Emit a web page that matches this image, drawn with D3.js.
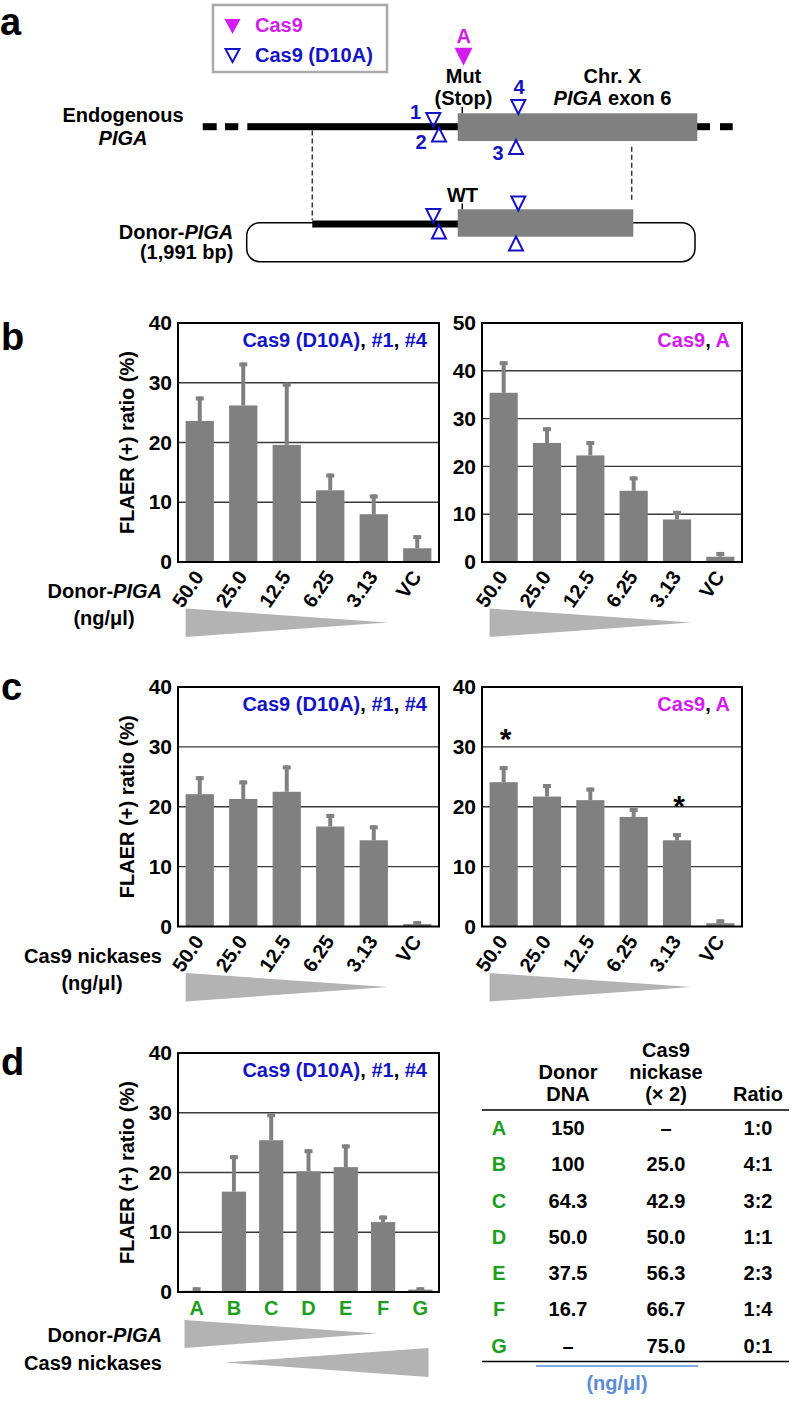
<!DOCTYPE html>
<html><head><meta charset="utf-8">
<script src="https://cdn.jsdelivr.net/npm/d3@7"></script>
<style>body{margin:0;background:#fff}svg{display:block}text{font-family:"Liberation Sans",Arial,sans-serif;font-weight:bold}</style>
</head><body><svg id="fig" width="796" height="1405"></svg>
<script>
// ---------- DATA ----------
const doseCats = ["50.0","25.0","12.5","6.25","3.13","VC"];
const bLeftValues  = [23.6, 26.2, 19.6, 12.0, 8.0, 2.3];
const bLeftErrors  = [4.1, 7.2, 10.4, 2.8, 3.3, 2.2];
const bRightValues = [35.4, 24.9, 22.3, 14.9, 8.9, 1.1];
const bRightErrors = [6.6, 3.3, 3.0, 3.0, 1.8, 1.0];
const cLeftValues  = [22.1, 21.3, 22.5, 16.7, 14.4, 0.4];
const cLeftErrors  = [3.0, 3.1, 4.4, 2.1, 2.5, 0.5];
const cRightValues = [24.1, 21.7, 21.1, 18.3, 14.4, 0.55];
const cRightErrors = [2.7, 2.1, 2.1, 1.5, 1.2, 0.65];
const cRightStars  = [true, false, false, false, true, false];
const ratioCats    = ["A","B","C","D","E","F","G"];
const dValues      = [0.2, 16.8, 25.4, 20.2, 20.9, 11.7, 0.4];
const dErrors      = [0.6, 6.1, 4.5, 3.7, 3.8, 1.1, 0.4];
const ticks40 = [0,10,20,30,40];
const ticks50 = [0,10,20,30,40,50];
const tableDonor = ["150","100","64.3","50.0","37.5","16.7","–"];
const tableCas9  = ["–","25.0","42.9","50.0","56.3","66.7","75.0"];
const tableRatio = ["1:0","4:1","3:2","1:1","2:3","1:4","0:1"];

// ---------- STYLE ----------
const BLUE="#1414c4", MAG="#d21cf0", GREEN="#1e9e1e", BAR="#808080", TRI="#b3b3b3";
const svg = d3.select("#fig");

function txt(g, x, y, s, opt={}) {
  const t = g.append("text").attr("x",x).attr("y",y).text(s)
    .attr("font-size", opt.size||20).attr("fill", opt.fill||"#000")
    .attr("text-anchor", opt.anchor||"start");
  if (opt.italic) t.attr("font-style","italic");
  if (opt.weight) t.attr("font-weight",opt.weight);
  return t;
}
function richText(g, x, y, parts, anchor, size) {
  const t = g.append("text").attr("x",x).attr("y",y).attr("text-anchor",anchor||"start").attr("font-size",size||20);
  parts.forEach(p => { const s=t.append("tspan").text(p.t).attr("fill",p.c||"#000"); if(p.i) s.attr("font-style","italic"); });
  return t;
}

// ---------- BAR CHART ----------
function barChart(o) {
  const g = svg.append("g");
  const x = d3.scaleBand().domain(o.cats).range([o.x0,o.x1]).paddingInner(0.35).paddingOuter(0.175);
  const y = d3.scaleLinear().domain([0,o.ymax]).range([o.y1,o.y0]);
  g.selectAll(".grid").data(o.ticks.filter(t=>t>0 && t<o.ymax)).join("line")
    .attr("x1",o.x0).attr("x2",o.x1).attr("y1",d=>y(d)).attr("y2",d=>y(d))
    .attr("stroke","#3a3a3a").attr("stroke-width",1.4);
  g.selectAll(".bar").data(o.values).join("rect")
    .attr("x",(d,i)=>x(o.cats[i])).attr("width",x.bandwidth())
    .attr("y",d=>y(d)).attr("height",d=>o.y1-y(d)).attr("fill",BAR);
  g.selectAll(".err").data(o.values).join("line")
    .attr("x1",(d,i)=>x(o.cats[i])+x.bandwidth()/2).attr("x2",(d,i)=>x(o.cats[i])+x.bandwidth()/2)
    .attr("y1",d=>y(d)).attr("y2",(d,i)=>y(d+o.errors[i])).attr("stroke",BAR).attr("stroke-width",4);
  g.selectAll(".cap").data(o.values).join("rect")
    .attr("x",(d,i)=>x(o.cats[i])+x.bandwidth()/2-4).attr("width",8)
    .attr("y",(d,i)=>y(d+o.errors[i])).attr("height",4).attr("fill",BAR);
  g.append("rect").attr("x",o.x0).attr("y",o.y0).attr("width",o.x1-o.x0).attr("height",o.y1-o.y0)
    .attr("fill","none").attr("stroke","#000").attr("stroke-width",2);
  const ya = d3.axisLeft(y).tickValues(o.ticks).tickSize(0).tickPadding(6);
  const yg = g.append("g").attr("transform",`translate(${o.x0},0)`).call(ya);
  yg.select(".domain").remove();
  yg.selectAll("text").attr("font-size",21).attr("fill","#000").attr("font-family",'"Liberation Sans",Arial,sans-serif').attr("font-weight","bold");
  if (o.rotate) {
    o.cats.forEach(c => {
      const cx = x(c)+x.bandwidth()/2;
      const t = txt(g, 0, 0, c, {anchor:"end"});
      t.attr("transform",`translate(${cx+5},${o.y1+15}) rotate(-55)`);
    });
  } else {
    o.cats.forEach(c => txt(g, x(c)+x.bandwidth()/2, o.y1+23, c, {anchor:"middle", fill:GREEN}));
  }
  richText(g, o.x1-12, o.y0+24, o.title, "end", 20);
  if (o.ylabel) {
    txt(g, 0, 0, "FLAER (+) ratio (%)", {anchor:"middle"})
      .attr("transform",`translate(${o.x0-44},${(o.y0+o.y1)/2}) rotate(-90)`);
  }
  if (o.stars) {
    o.stars.forEach((s,i)=>{ if(s){ const c=o.cats[i];
      txt(g, x(c)+x.bandwidth()/2+2, y(o.values[i]+o.errors[i])-17, "*", {anchor:"middle", size:30}); }});
  }
  if (o.rotate) {
    const l = x(o.cats[0]), r = x(o.cats[4])+x.bandwidth();
    const ty = o.y1+46.5;
    g.append("path").attr("d",`M${l},${ty} L${r},${ty+14} L${l},${ty+28.5} Z`).attr("fill",TRI);
  }
  return {g,x,y};
}

const titleD10A = [{t:"Cas9 (D10A)",c:BLUE},{t:", "},{t:"#1",c:BLUE},{t:", "},{t:"#4",c:BLUE}];
const titleCas9 = [{t:"Cas9",c:MAG},{t:", "},{t:"A",c:MAG}];

barChart({x0:178,x1:439,y0:323,y1:562,ymax:40,ticks:ticks40,cats:doseCats,values:bLeftValues,errors:bLeftErrors,rotate:true,title:titleD10A,ylabel:true});
barChart({x0:482,x1:742,y0:323,y1:562,ymax:50,ticks:ticks50,cats:doseCats,values:bRightValues,errors:bRightErrors,rotate:true,title:titleCas9});
barChart({x0:178,x1:439,y0:687,y1:926.5,ymax:40,ticks:ticks40,cats:doseCats,values:cLeftValues,errors:cLeftErrors,rotate:true,title:titleD10A,ylabel:true});
barChart({x0:482,x1:742,y0:687,y1:926.5,ymax:40,ticks:ticks40,cats:doseCats,values:cRightValues,errors:cRightErrors,rotate:true,title:titleCas9,stars:cRightStars});
const dch = barChart({x0:178,x1:439,y0:1053,y1:1292,ymax:40,ticks:ticks40,cats:ratioCats,values:dValues,errors:dErrors,rotate:false,title:titleD10A,ylabel:true});
{
  const x=dch.x, bw=x.bandwidth();
  const l1=x("A"), r1=x("F")+bw*0.25;
  dch.g.append("path").attr("d",`M${l1},1320 L${r1},1333.5 L${l1},1348 Z`).attr("fill",TRI);
  const l2=x("B")+3, r2=x("G")+bw-4;
  dch.g.append("path").attr("d",`M${l2},1362.5 L${r2},1348 L${r2},1377 Z`).attr("fill",TRI);
}

// side labels
richText(svg, 162, 598, [{t:"Donor-"},{t:"PIGA",i:true}], "end");
txt(svg, 104, 625, "(ng/μl)", {anchor:"middle"});
txt(svg, 162, 963, "Cas9 nickases", {anchor:"end"});
txt(svg, 92, 990, "(ng/μl)", {anchor:"middle"});
richText(svg, 162, 1342, [{t:"Donor-"},{t:"PIGA",i:true}], "end");
txt(svg, 162, 1370, "Cas9 nickases", {anchor:"end"});

// panel letters
txt(svg, 0, 35, "a", {size:38});
txt(svg, 1, 350, "b", {size:38});
txt(svg, 1, 700, "c", {size:38});
txt(svg, 1, 1075, "d", {size:38});

// ---------- TABLE ----------
{
  const tg = svg.append("g");
  const colL=499, colD=568, colC=666, colR=758;
  txt(tg,colC,1057,"Cas9",{anchor:"middle"});
  txt(tg,colD,1079,"Donor",{anchor:"middle"});
  txt(tg,colC,1079,"nickase",{anchor:"middle"});
  txt(tg,colD,1101,"DNA",{anchor:"middle"});
  txt(tg,colC,1101,"(× 2)",{anchor:"middle"});
  txt(tg,colR,1101,"Ratio",{anchor:"middle"});
  tg.append("line").attr("x1",482).attr("x2",789).attr("y1",1110).attr("y2",1110).attr("stroke","#000").attr("stroke-width",1.5);
  const rowY = d3.scalePoint().domain(ratioCats).range([1135,1352.5]);
  ratioCats.forEach((c,i)=>{
    const yy=rowY(c);
    txt(tg,colL,yy,c,{anchor:"middle",fill:GREEN});
    txt(tg,colD,yy,tableDonor[i],{anchor:"middle",weight:tableDonor[i]==="–"?"normal":"bold"});
    txt(tg,colC,yy,tableCas9[i],{anchor:"middle",weight:tableCas9[i]==="–"?"normal":"bold"});
    txt(tg,colR,yy,tableRatio[i],{anchor:"middle"});
  });
  tg.append("line").attr("x1",482).attr("x2",789).attr("y1",1361.5).attr("y2",1361.5).attr("stroke","#000").attr("stroke-width",1.5);
  tg.append("line").attr("x1",536).attr("x2",698).attr("y1",1366).attr("y2",1366).attr("stroke","#5b8bd8").attr("stroke-width",1.5);
  txt(tg,617,1390,"(ng/μl)",{anchor:"middle",fill:"#5b8bd8"});
}

// ---------- PANEL a (schematic) ----------
{
  const a = svg.append("g");
  a.append("rect").attr("x",213).attr("y",5).attr("width",174).attr("height",67).attr("fill","none").attr("stroke","#aaa").attr("stroke-width",2.5);
  a.append("path").attr("d","M224.5,19 L240.5,19 L232.5,34 Z").attr("fill",MAG);
  a.append("path").attr("d","M225.5,49 L239.5,49 L232.5,62 Z").attr("fill","none").attr("stroke",BLUE).attr("stroke-width",2);
  txt(a,255,32,"Cas9",{fill:MAG});
  txt(a,255,62,"Cas9 (D10A)",{fill:BLUE});

  txt(a,123,122,"Endogenous",{anchor:"middle"});
  txt(a,123,145,"PIGA",{anchor:"middle",italic:true});
  const ly=126.7, lw=7;
  [[202.7,216.7],[225,238.3],[247.3,458],[697,710],[720,732.7]].forEach(s=>
    a.append("rect").attr("x",s[0]).attr("y",ly-lw/2).attr("width",s[1]-s[0]).attr("height",lw).attr("fill","#000"));
  a.append("rect").attr("x",457.7).attr("y",113.3).attr("width",239.6).attr("height",27.7).attr("fill",BAR);
  a.append("line").attr("x1",462.3).attr("x2",462.3).attr("y1",107).attr("y2",113.3).attr("stroke","#000").attr("stroke-width",1.5);
  a.append("line").attr("x1",312.3).attr("x2",312.3).attr("y1",130.5).attr("y2",220).attr("stroke","#333").attr("stroke-width",1.5).attr("stroke-dasharray","5,3");
  a.append("line").attr("x1",631.7).attr("x2",631.7).attr("y1",146.7).attr("y2",200).attr("stroke","#333").attr("stroke-width",1.5).attr("stroke-dasharray","5,3");

  a.append("rect").attr("x",246.7).attr("y",222.7).attr("width",448.3).attr("height",39).attr("rx",13).attr("fill","none").attr("stroke","#000").attr("stroke-width",1.5);
  a.append("rect").attr("x",312.3).attr("y",220.5).attr("width",146).attr("height",7).attr("fill","#000");
  a.append("rect").attr("x",457.7).attr("y",209.3).attr("width",175.6).attr("height",27.4).attr("fill",BAR);
  a.append("line").attr("x1",462.3).attr("x2",462.3).attr("y1",203.5).attr("y2",209.3).attr("stroke","#000").attr("stroke-width",1.5);
  richText(a,233.3,239.3,[{t:"Donor-"},{t:"PIGA",i:true}],"end");
  txt(a,233.3,259,"(1,991 bp)",{anchor:"end"});

  txt(a,463.8,43.3,"A",{anchor:"middle",fill:MAG});
  a.append("path").attr("d","M454.5,47.7 L472.5,47.7 L463.5,65.7 Z").attr("fill",MAG);
  txt(a,463.5,83.3,"Mut",{anchor:"middle"});
  txt(a,463.5,105,"(Stop)",{anchor:"middle"});
  txt(a,612.5,83.3,"Chr. X",{anchor:"middle"});
  richText(a,612.5,105,[{t:"PIGA",i:true},{t:" exon 6"}],"middle");
  txt(a,462.5,201.5,"WT",{anchor:"middle"});

  const down=(cx,ty)=>a.append("path").attr("d",`M${cx-7},${ty+1} L${cx+7},${ty+1} L${cx},${ty+15} Z`).attr("fill","none").attr("stroke",BLUE).attr("stroke-width",2);
  const up=(cx,by)=>a.append("path").attr("d",`M${cx-7},${by-1} L${cx+7},${by-1} L${cx},${by-15} Z`).attr("fill","none").attr("stroke",BLUE).attr("stroke-width",2);
  down(433.3,112); up(439,142.5);
  down(518.3,99); up(516,155);
  down(433.3,208); up(439,239.5);
  down(518.3,195.5); up(516,251.5);
  txt(a,415.5,119,"1",{anchor:"middle",fill:BLUE});
  txt(a,421,149,"2",{anchor:"middle",fill:BLUE});
  txt(a,498,160,"3",{anchor:"middle",fill:BLUE});
  txt(a,519,94.3,"4",{anchor:"middle",fill:BLUE});
}
</script></body></html>
